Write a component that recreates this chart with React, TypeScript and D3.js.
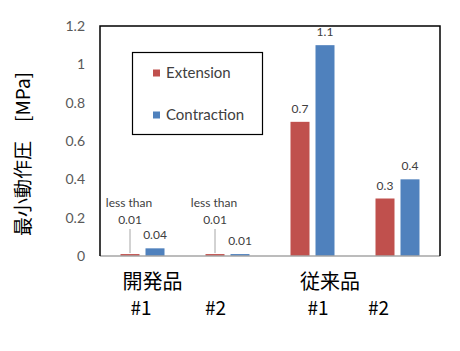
import React from "react";
import * as d3 from "d3";

const categories = ["開発品 #1", "開発品 #2", "従来品 #1", "従来品 #2"];
const groupLabels = ["開発品", "従来品"];
const subLabels = ["#1", "#2", "#1", "#2"];
const series = ["Extension", "Contraction"];
const extension = [0.01, 0.01, 0.7, 0.3];
const contraction = [0.04, 0.01, 1.1, 0.4];
const extLabels = ["0.01", "0.01", "0.7", "0.3"];
const conLabels = ["0.04", "0.01", "1.1", "0.4"];
const lessThan = [true, true, false, false];
const yTicks = [0, 0.2, 0.4, 0.6, 0.8, 1, 1.2];
const yTitle = "最小動作圧　[MPa]";

const colors = ["#C0504D", "#4F81BD"];
const W = 460, H = 351;
const M = { left: 100, right: 440, top: 26, bottom: 256 };
const latin = "Lato, 'Noto Sans', sans-serif";
const cjk = "'Noto Sans CJK JP', 'Noto Sans', sans-serif";

export default function App() {
  const x0 = d3.scaleBand<number>().domain(d3.range(categories.length)).range([M.left, M.right]).padding(0);
  const x1 = d3.scaleBand<string>().domain(series).range([20.5, 64.5]).paddingInner(0.24).paddingOuter(0);
  const y = d3.scaleLinear().domain([0, 1.2]).range([M.bottom, M.top]);
  const fmt = d3.format("~g");
  const data = [extension, contraction];
  const labels = [extLabels, conLabels];
  const groupIdx = [0, 2];
  const groupOff = [10, 17.5];
  const subOff = [-1.5, -12, 5.5, -19];

  return (
    <svg width={W} height={H} style={{ position: "absolute", left: 0, top: 0, background: "#fff" }}>
      <rect width={W} height={H} fill="#fff" />
      {yTicks.map((t) => (
        <text key={t} x={85} y={y(t)} dy="0.35em" textAnchor="end" fontFamily={latin} fontSize={14} fill="#595959">
          {fmt(t)}
        </text>
      ))}
      {series.map((s, si) =>
        data[si].map((v, i) => (
          <rect
            key={s + i}
            x={(x0(i) as number) + (x1(s) as number)}
            y={y(v)}
            width={x1.bandwidth()}
            height={y(0) - y(v)}
            fill={colors[si]}
          />
        ))
      )}
      {series.map((s, si) =>
        data[si].map((v, i) => {
          const cx = (x0(i) as number) + (x1(s) as number) + x1.bandwidth() / 2;
          if (si === 0 && lessThan[i]) {
            return (
              <g key={"l" + s + i}>
                <line x1={cx} x2={cx} y1={y(v) - 1} y2={229} stroke="#a6a6a6" strokeWidth={1} />
                <text x={cx - 1} y={207} textAnchor="middle" fontFamily={latin} fontSize={12} fill="#404040">less than</text>
                <text x={cx} y={224} textAnchor="middle" fontFamily={latin} fontSize={12} fill="#404040">{labels[si][i]}</text>
              </g>
            );
          }
          return (
            <text key={"l" + s + i} x={cx} y={y(v) - 9} textAnchor="middle" fontFamily={latin} fontSize={12} fill="#404040">
              {labels[si][i]}
            </text>
          );
        })
      )}
      <line x1={M.left} x2={M.right} y1={M.bottom} y2={M.bottom} stroke="#a6a6a6" strokeWidth={1.5} />
      <path d={`M${M.left},${M.bottom}V${M.top}H${M.right}V${M.bottom}`} fill="none" stroke="#000" strokeWidth={1.5} />
      <rect x={132.5} y={52.5} width={130} height={82} fill="#fff" stroke="#000" strokeWidth={1.2} />
      {series.map((s, si) => (
        <g key={"lg" + s} transform={`translate(153,${73 + si * 42})`}>
          <rect x={0} y={-3.5} width={7} height={7} fill={colors[si]} />
          <text x={13} y={0} dy="0.35em" fontFamily={latin} fontSize={15} fill="#404040">{s}</text>
        </g>
      ))}
      {groupLabels.map((g, gi) => (
        <text key={g} x={(x0(groupIdx[gi]) as number) + x0.bandwidth() / 2 + groupOff[gi]} y={289} textAnchor="middle" fontFamily={cjk} fontSize={20} fill="#000">
          {g}
        </text>
      ))}
      {subLabels.map((s, i) => (
        <text key={"s" + i} x={(x0(i) as number) + x0.bandwidth() / 2 + subOff[i]} y={315} textAnchor="middle" fontFamily={cjk} fontSize={19} fill="#000">
          {s}
        </text>
      ))}
      <text transform={`translate(30,154) rotate(-90)`} textAnchor="middle" fontFamily={cjk} fontSize={19} fill="#000">
        {yTitle}
      </text>
    </svg>
  );
}
